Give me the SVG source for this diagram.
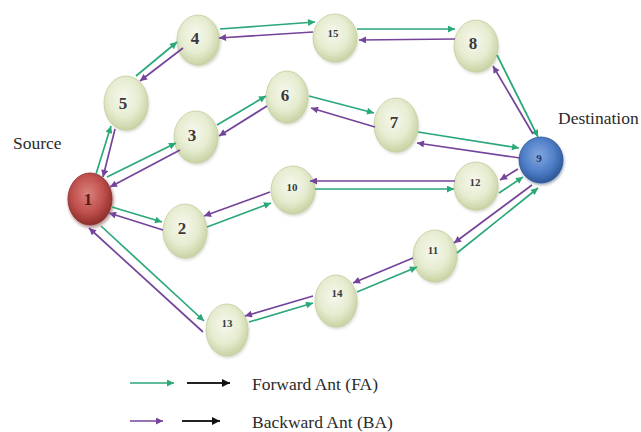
<svg xmlns="http://www.w3.org/2000/svg" width="641" height="432" viewBox="0 0 641 432">
<style>
.g{stroke:#2aa878;stroke-width:1.7;fill:none;marker-end:url(#ag)}
.p{stroke:#74449a;stroke-width:1.7;fill:none;marker-end:url(#ap)}
.k{stroke:#222;stroke-width:1.8;fill:none;marker-end:url(#ak)}
.n{fill:url(#gn);stroke:#c4cfa0;stroke-width:0.8}
.lb{font-family:"Liberation Serif",serif;font-weight:bold;fill:#3a3a3a;text-anchor:middle}
.big{font-size:17px}
.sm{font-size:11px}
.t{font-family:"Liberation Serif",serif;font-size:17.5px;fill:#2a2a2a}
</style>
<defs>
<radialGradient id="gn" cx="45%" cy="40%" r="60%">
<stop offset="0" stop-color="#f6f8ee"/>
<stop offset="0.6" stop-color="#e6ecd0"/>
<stop offset="1" stop-color="#c8d3a4"/>
</radialGradient>
<radialGradient id="gr" cx="45%" cy="40%" r="60%">
<stop offset="0" stop-color="#d9837f"/>
<stop offset="0.6" stop-color="#c0504d"/>
<stop offset="1" stop-color="#8e2f2c"/>
</radialGradient>
<radialGradient id="gb" cx="45%" cy="40%" r="60%">
<stop offset="0" stop-color="#84a8e0"/>
<stop offset="0.6" stop-color="#4f7fc8"/>
<stop offset="1" stop-color="#2f5799"/>
</radialGradient>
<filter id="sh" x="-30%" y="-30%" width="160%" height="160%">
<feGaussianBlur stdDeviation="1.5"/>
</filter>
<marker id="ag" viewBox="0 0 10 10" refX="10" refY="5" markerWidth="9" markerHeight="7" markerUnits="userSpaceOnUse" orient="auto"><path d="M0,0L10,5L0,10z" fill="#2aa878"/></marker>
<marker id="ap" viewBox="0 0 10 10" refX="10" refY="5" markerWidth="9" markerHeight="7" markerUnits="userSpaceOnUse" orient="auto"><path d="M0,0L10,5L0,10z" fill="#74449a"/></marker>
<marker id="ak" viewBox="0 0 10 10" refX="10" refY="5" markerWidth="10" markerHeight="8" markerUnits="userSpaceOnUse" orient="auto"><path d="M0,0L10,5L0,10z" fill="#111"/></marker>
</defs>
<rect width="641" height="432" fill="#fff"/>

<g id="shadows" fill="#b8bca8" opacity="0.6" filter="url(#sh)">
<ellipse cx="91" cy="201" rx="23" ry="27" fill="#8a5a58"/>
<ellipse cx="127" cy="105" rx="22" ry="27"/>
<ellipse cx="199" cy="42" rx="22" ry="25"/>
<ellipse cx="336" cy="40" rx="22" ry="24"/>
<ellipse cx="477" cy="48" rx="22" ry="26"/>
<ellipse cx="197" cy="139" rx="22" ry="26"/>
<ellipse cx="288" cy="99" rx="21" ry="26"/>
<ellipse cx="397" cy="127" rx="22" ry="27"/>
<ellipse cx="186" cy="233" rx="22" ry="27"/>
<ellipse cx="294" cy="192" rx="22" ry="24"/>
<ellipse cx="477" cy="188" rx="22" ry="24"/>
<ellipse cx="228" cy="332" rx="21" ry="26"/>
<ellipse cx="337" cy="303" rx="21" ry="26"/>
<ellipse cx="436" cy="258" rx="22" ry="26"/>
<ellipse cx="542" cy="162" rx="22" ry="23" fill="#556a8a"/>
</g>

<g id="node-1"><ellipse cx="90" cy="199" rx="22" ry="26" fill="url(#gr)" stroke="#8e2f2c" stroke-width="0.8"/><text class="lb big" x="88" y="205" style="fill:#5a1a18">1</text></g>
<g id="node-5"><ellipse class="n" cx="126" cy="103" rx="22" ry="27"/><text class="lb big" x="123" y="109">5</text></g>
<g id="node-4"><ellipse class="n" cx="198" cy="40" rx="21" ry="25"/><text class="lb big" x="195" y="44">4</text></g>
<g id="node-15"><ellipse class="n" cx="335" cy="38" rx="22" ry="24"/><text class="lb sm" x="333" y="37">15</text></g>
<g id="node-8"><ellipse class="n" cx="476" cy="46" rx="22" ry="26"/><text class="lb big" x="473" y="49">8</text></g>
<g id="node-3"><ellipse class="n" cx="196" cy="137" rx="22" ry="26"/><text class="lb big" x="192" y="141">3</text></g>
<g id="node-6"><ellipse class="n" cx="287" cy="97" rx="21" ry="26"/><text class="lb big" x="285" y="101">6</text></g>
<g id="node-7"><ellipse class="n" cx="396" cy="125" rx="22" ry="27"/><text class="lb big" x="394" y="128">7</text></g>
<g id="node-2"><ellipse class="n" cx="185" cy="231" rx="22" ry="27"/><text class="lb big" x="182" y="234">2</text></g>
<g id="node-10"><ellipse class="n" cx="293" cy="190" rx="22" ry="24"/><text class="lb sm" x="292" y="191">10</text></g>
<g id="node-12"><ellipse class="n" cx="476" cy="186" rx="22" ry="24"/><text class="lb sm" x="475" y="186">12</text></g>
<g id="node-13"><ellipse class="n" cx="227" cy="330" rx="21" ry="26"/><text class="lb sm" x="227" y="327">13</text></g>
<g id="node-14"><ellipse class="n" cx="336" cy="301" rx="21" ry="26"/><text class="lb sm" x="337" y="297">14</text></g>
<g id="node-11"><ellipse class="n" cx="435" cy="256" rx="22" ry="26"/><text class="lb sm" x="433" y="254">11</text></g>
<g id="node-9"><ellipse cx="541" cy="160" rx="22" ry="23" fill="url(#gb)" stroke="#2f5799" stroke-width="0.8"/><text class="lb" x="539" y="162" style="font-size:11px;fill:#1e3560">9</text></g>

<g id="connectors">
<line class="g" x1="96" y1="174" x2="111" y2="126"/>
<line class="p" x1="115" y1="129" x2="103" y2="177"/>
<line class="g" x1="136" y1="76" x2="177" y2="42"/>
<line class="p" x1="183" y1="48" x2="140" y2="81"/>
<line class="g" x1="220" y1="29" x2="315" y2="22"/>
<line class="p" x1="313" y1="32" x2="219" y2="38"/>
<line class="g" x1="357" y1="29" x2="455" y2="29"/>
<line class="p" x1="455" y1="39" x2="359" y2="40"/>
<line class="g" x1="497" y1="55" x2="538" y2="137"/>
<line class="p" x1="533" y1="134" x2="493" y2="66"/>
<line class="g" x1="107" y1="177" x2="176" y2="143"/>
<line class="p" x1="180" y1="150" x2="110" y2="187"/>
<line class="g" x1="217" y1="125" x2="266" y2="96"/>
<line class="p" x1="267" y1="106" x2="219" y2="136"/>
<line class="g" x1="309" y1="96" x2="374" y2="113"/>
<line class="p" x1="375" y1="127" x2="311" y2="108"/>
<line class="g" x1="418" y1="132" x2="519" y2="148"/>
<line class="p" x1="520" y1="158" x2="417" y2="143"/>
<line class="g" x1="112" y1="207" x2="162" y2="222"/>
<line class="p" x1="163" y1="230" x2="109" y2="213"/>
<line class="g" x1="207" y1="227" x2="271" y2="203"/>
<line class="p" x1="270" y1="192" x2="204" y2="216"/>
<line class="g" x1="315" y1="189" x2="454" y2="189"/>
<line class="p" x1="455" y1="181" x2="310" y2="181"/>
<line class="g" x1="499" y1="193" x2="523" y2="177"/>
<line class="p" x1="518" y1="169" x2="500" y2="180"/>
<line class="g" x1="101" y1="226" x2="204" y2="321"/>
<line class="p" x1="203" y1="332" x2="89" y2="228"/>
<line class="g" x1="249" y1="322" x2="313" y2="303"/>
<line class="p" x1="313" y1="296" x2="245" y2="316"/>
<line class="g" x1="357" y1="292" x2="417" y2="267"/>
<line class="p" x1="413" y1="258" x2="353" y2="283"/>
<line class="g" x1="457" y1="253" x2="538" y2="188"/>
<line class="p" x1="532" y1="185" x2="454" y2="243"/>
</g>

<g id="labels">
<text class="t" x="13" y="149">Source</text>
<text class="t" x="558" y="124">Destination</text>
</g>

<g id="legend">
<line class="g" x1="130" y1="383" x2="174" y2="383"/>
<line class="k" x1="187" y1="383" x2="230" y2="383"/>
<text class="t" x="252" y="390">Forward Ant (FA)</text>
<line class="p" x1="130" y1="421" x2="163" y2="421"/>
<line class="k" x1="182" y1="421" x2="220" y2="421"/>
<text class="t" x="252" y="428">Backward Ant (BA)</text>
</g>
</svg>
